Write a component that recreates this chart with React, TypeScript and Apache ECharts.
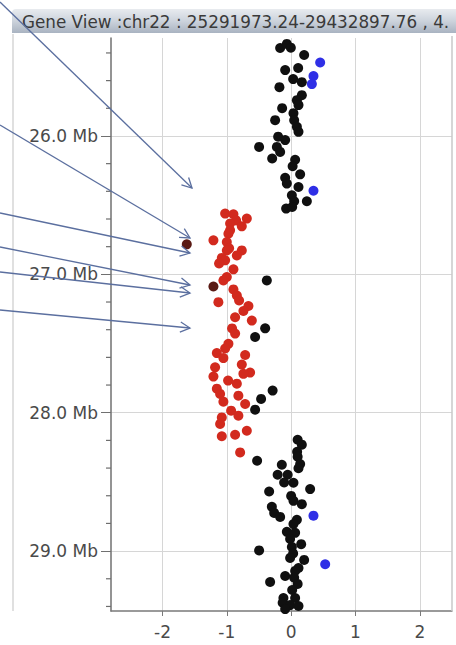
import React, { useEffect, useRef } from "react";
import * as echarts from "echarts";

const TITLE = "Gene View :chr22 : 25291973.24-29432897.76 , 4.";
const Y_MIN = 25.29197324;
const Y_MAX = 29.43289776;
const X_MIN = -2.8;
const X_MAX = 2.5;
const X_TICKS = [-2, -1, 0, 1, 2];
const Y_TICKS = [26, 27, 28, 29];
const Y_MINOR = [25.4, 25.6, 25.8, 26.2, 26.4, 26.6, 26.8, 27.2, 27.4, 27.6, 27.8, 28.2, 28.4, 28.6, 28.8, 29.2, 29.4];

const blackPoints: [number, number][] = [
  [-0.171, 25.364], [-0.067, 25.335], [-0.005, 25.362], [0.202, 25.415], [-0.093, 25.524],
  [0.109, 25.509], [0.031, 25.589], [0.166, 25.611], [-0.182, 25.647], [0.166, 25.705],
  [0.089, 25.741], [0.114, 25.777], [-0.14, 25.799], [0.036, 25.835], [0.047, 25.886],
  [-0.249, 25.886], [0.089, 25.934], [0.114, 25.97], [-0.202, 26.005], [-0.093, 26.03],
  [-0.498, 26.079], [-0.222, 26.079], [-0.171, 26.115], [-0.295, 26.163], [0.062, 26.172],
  [0.023, 26.219], [0.14, 26.277], [-0.093, 26.302], [-0.067, 26.344], [0.114, 26.369],
  [0.011, 26.429], [0.244, 26.472], [0.047, 26.472], [-0.078, 26.525], [0.016, 26.513],
  [-0.378, 27.044], [-0.404, 27.39], [-0.56, 27.453], [-0.288, 27.84], [-0.467, 27.9],
  [-0.56, 27.978], [-0.529, 28.347],
  [0.101, 28.195], [0.166, 28.231], [0.093, 28.282], [0.101, 28.318], [0.14, 28.371],
  [-0.145, 28.376], [0.114, 28.401], [-0.21, 28.448], [-0.054, 28.448], [-0.109, 28.504],
  [0.036, 28.506], [-0.342, 28.569], [0.295, 28.552], [0.0, 28.601], [0.036, 28.637],
  [-0.3, 28.68], [0.166, 28.661], [-0.264, 28.724], [-0.171, 28.753], [0.089, 28.774],
  [0.036, 28.805], [-0.067, 28.861], [0.062, 28.868], [-0.016, 28.912], [0.156, 28.95],
  [0.011, 28.97], [-0.498, 28.995], [0.031, 29.017], [-0.016, 29.049], [0.202, 29.064],
  [0.114, 29.122], [0.062, 29.143], [-0.093, 29.18], [0.047, 29.192], [-0.327, 29.223],
  [0.101, 29.237], [0.016, 29.281], [-0.12, 29.339], [0.062, 29.339], [-0.132, 29.373],
  [-0.016, 29.39], [-0.093, 29.419], [0.114, 29.397],
];

const redPoints: [number, number][] = [
  [-1.026, 26.561], [-0.897, 26.566], [-0.689, 26.597], [-0.855, 26.61], [-0.949, 26.633],
  [-0.767, 26.653], [-0.949, 26.682], [-0.975, 26.706], [-1.208, 26.754], [-1.0, 26.767],
  [-0.964, 26.812], [-0.767, 26.827], [-1.0, 26.827], [-0.844, 26.863], [-1.078, 26.881],
  [-1.026, 26.899], [-1.12, 26.921], [-0.897, 26.964], [-1.0, 27.019], [-1.053, 27.044],
  [-0.897, 27.109], [-0.844, 27.153], [-0.809, 27.189], [-1.131, 27.201], [-0.664, 27.229],
  [-0.742, 27.265], [-0.871, 27.31], [-0.611, 27.334], [-0.918, 27.391], [-0.871, 27.428],
  [-0.975, 27.502], [-1.026, 27.536], [-1.155, 27.569], [-0.715, 27.583], [-1.053, 27.605],
  [-0.767, 27.652], [-1.182, 27.672], [-0.638, 27.71], [-0.742, 27.719], [-1.208, 27.739],
  [-0.98, 27.768], [-0.844, 27.79], [-1.155, 27.826], [-1.104, 27.864], [-0.82, 27.877],
  [-1.053, 27.92], [-0.715, 27.937], [-0.933, 27.985], [-0.82, 28.021], [-1.078, 28.034],
  [-1.104, 28.081], [-0.689, 28.13], [-0.871, 28.159], [-1.078, 28.17], [-0.793, 28.287],
];

const darkRedPoints: [number, number][] = [
  [-1.622, 26.783], [-1.208, 27.088],
];

const bluePoints: [number, number][] = [
  [0.451, 25.469], [0.347, 25.567], [0.322, 25.625], [0.347, 26.396], [0.347, 28.744], [0.529, 29.095],
];

// annotation arrows (pixel positions on the page): [x0, y0, x1, y1]
const ARROWS: [number, number, number, number][] = [
  [0, 2, 192, 188],
  [0, 125, 190, 238],
  [0, 213, 190, 253],
  [0, 247, 190, 285],
  [0, 272, 190, 293],
  [0, 310, 190, 328],
];

function arrowGraphics() {
  const out: any[] = [];
  const L = 11;
  const a = (28 * Math.PI) / 180;
  ARROWS.forEach(([x0, y0, x1, y1], i) => {
    const t = Math.atan2(y1 - y0, x1 - x0);
    out.push({
      id: "arrowLine" + i,
      type: "line",
      z: 100,
      shape: { x1: x0, y1: y0, x2: x1, y2: y1 },
      style: { stroke: "#5b6f9f", lineWidth: 1.3 },
    });
    out.push({
      id: "arrowHead" + i,
      type: "polyline",
      z: 100,
      shape: {
        points: [
          [x1 - L * Math.cos(t - a), y1 - L * Math.sin(t - a)],
          [x1, y1],
          [x1 - L * Math.cos(t + a), y1 - L * Math.sin(t + a)],
        ],
      },
      style: { stroke: "#5b6f9f", lineWidth: 1.3, fill: "none" },
    });
  });
  return out;
}

const FONT = "DejaVu Sans";

export default function App() {
  const ref = useRef<HTMLDivElement>(null);
  useEffect(() => {
    if (!ref.current) return;
    const chart = echarts.init(ref.current, null, { renderer: "svg" });
    const scatter = (name: string, data: [number, number][], color: string) => ({
      name,
      type: "scatter",
      data,
      symbol: "circle",
      symbolSize: 10,
      itemStyle: { color, opacity: 1 },
      silent: true,
    });
    chart.setOption({
      animation: false,
      backgroundColor: "#ffffff",
      grid: { left: 111, right: 4, top: 38, bottom: 34 },
      xAxis: {
        type: "value",
        min: X_MIN,
        max: X_MAX,
        axisLine: { show: true, onZero: false, lineStyle: { color: "#7a7a7a", width: 1.5 } },
        axisTick: { show: true, length: 5, customValues: X_TICKS, lineStyle: { color: "#7a7a7a" } },
        axisLabel: { customValues: X_TICKS, margin: 12, fontSize: 17, color: "#4a4a4a", fontFamily: FONT },
        splitLine: { show: true, lineStyle: { color: "#d6d6d6", width: 1 } },
      },
      yAxis: {
        type: "value",
        min: Y_MIN,
        max: Y_MAX,
        inverse: true,
        position: "left",
        axisLine: { show: true, onZero: false, lineStyle: { color: "#707070", width: 1.5 } },
        axisTick: { show: true, length: 10, customValues: Y_TICKS, lineStyle: { color: "#707070" } },
        axisLabel: {
          customValues: Y_TICKS,
          margin: 13,
          fontSize: 17,
          color: "#4a4a4a",
          fontFamily: FONT,
          formatter: (v: number) => v.toFixed(1) + " Mb",
        },
        splitLine: { show: true, lineStyle: { color: "#d6d6d6", width: 1 } },
      },
      series: [
        scatter("black", blackPoints, "#101010"),
        scatter("red", redPoints, "#d22a1e"),
        scatter("darkred", darkRedPoints, "#5a1a14"),
        scatter("blue", bluePoints, "#2f2fe6"),
      ],
      graphic: [
        {
          id: "rightBorder",
          type: "line",
          z: 1,
          shape: { x1: 452, y1: 36, x2: 452, y2: 611 },
          style: { stroke: "#c8c8c8", lineWidth: 1.5 },
        },
        {
          id: "leftPanelLine",
          type: "line",
          z: 1,
          shape: { x1: 13, y1: 34, x2: 13, y2: 611 },
          style: { stroke: "#d6d6d6", lineWidth: 1.5 },
        },
        {
          id: "titleBar",
          type: "rect",
          z: 50,
          shape: { x: 12, y: 9, width: 444, height: 24, r: [4, 0, 0, 0] },
          style: {
            fill: new echarts.graphic.LinearGradient(0, 0, 0, 1, [
              { offset: 0, color: "#e8ebef" },
              { offset: 0.5, color: "#ccd3dc" },
              { offset: 1, color: "#a9b3c1" },
            ]),
          },
        },
        {
          id: "titleText",
          type: "text",
          z: 51,
          x: 22,
          y: 21.5,
          style: {
            text: TITLE,
            fontSize: 16.8,
            fontFamily: FONT,
            fill: "#3a3a3a",
            verticalAlign: "middle",
            align: "left",
          },
        },
        ...arrowGraphics(),
      ],
    });
    // minor ticks on the y axis, positioned through the chart's own scale
    const minor = Y_MINOR.map((v, i) => {
      const p = chart.convertToPixel({ gridIndex: 0 }, [X_MIN, v]) as number[];
      return {
        id: "minorTick" + i,
        type: "line",
        z: 20,
        shape: { x1: p[0] - 5, y1: p[1], x2: p[0], y2: p[1] },
        style: { stroke: "#6e6e6e", lineWidth: 1.2 },
      };
    });
    chart.setOption({ graphic: minor });
    return () => chart.dispose();
  }, []);
  return (
    <div
      ref={ref}
      style={{ position: "fixed", left: 0, top: 0, width: 456, height: 645 }}
    />
  );
}
